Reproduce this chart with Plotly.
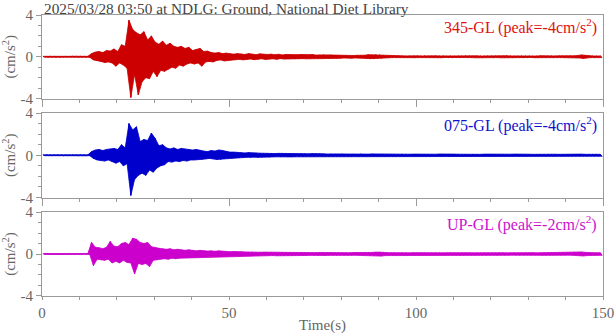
import numpy as np
import plotly.graph_objects as go

# time bins (s), 1-second resolution; each bin holds the max and min of the trace
t = list(range(150))

ns_hi = [0.04,0.03,0.04,0.05,0.04,0.03,0.04,0.04,0.05,0.04,
         0.04,0.05,0.04,0.30,0.45,0.50,0.40,0.60,0.55,0.75,
         0.50,1.15,1.00,3.50,2.60,2.30,2.10,2.40,1.60,2.00,
         1.40,1.20,1.50,1.10,1.30,1.00,0.90,1.00,0.80,0.90,
         0.60,0.70,0.80,0.50,0.55,0.40,0.35,0.40,0.30,0.35,
         0.30,0.25,0.30,0.28,0.22,0.30,0.25,0.20,0.28,0.24,
         0.22,0.25,0.20,0.24,0.18,0.22,0.20,0.18,0.20,0.22,
         0.18,0.20,0.22,0.16,0.18,0.20,0.15,0.18,0.16,0.14,
         0.12,0.14,0.10,0.12,0.14,0.12,0.15,0.20,0.18,0.22,
         0.20,0.15,0.10,0.12,0.08,0.10,0.09,0.08,0.10,0.08,
         0.09,0.08,0.10,0.07,0.08,0.09,0.08,0.10,0.07,0.08,
         0.08,0.09,0.07,0.10,0.08,0.08,0.09,0.07,0.08,0.10,
         0.08,0.07,0.09,0.08,0.10,0.08,0.07,0.09,0.08,0.07,
         0.09,0.08,0.07,0.10,0.08,0.09,0.07,0.08,0.09,0.08,
         0.08,0.10,0.09,0.12,0.18,0.14,0.09,0.08,0.07,0.08]
ns_lo = [-0.04,-0.04,-0.03,-0.04,-0.05,-0.04,-0.04,-0.03,-0.04,-0.05,
         -0.04,-0.04,-0.05,-0.30,-0.40,-0.45,-0.55,-0.50,-0.60,-0.90,
         -0.60,-0.80,-1.10,-3.90,-1.70,-3.65,-2.40,-2.00,-2.10,-1.40,
         -1.90,-1.30,-1.40,-1.20,-1.00,-1.10,-0.80,-0.90,-0.70,-0.60,
         -0.70,-0.60,-0.90,-0.50,-0.45,-0.50,-0.35,-0.30,-0.40,-0.30,
         -0.30,-0.28,-0.25,-0.30,-0.26,-0.22,-0.28,-0.24,-0.20,-0.26,
         -0.22,-0.20,-0.25,-0.18,-0.22,-0.20,-0.18,-0.22,-0.20,-0.18,
         -0.20,-0.18,-0.16,-0.20,-0.18,-0.15,-0.18,-0.14,-0.16,-0.15,
         -0.12,-0.10,-0.14,-0.12,-0.10,-0.13,-0.16,-0.18,-0.22,-0.18,
         -0.16,-0.12,-0.10,-0.08,-0.10,-0.09,-0.08,-0.10,-0.08,-0.09,
         -0.08,-0.09,-0.07,-0.08,-0.10,-0.08,-0.09,-0.07,-0.08,-0.09,
         -0.10,-0.08,-0.09,-0.07,-0.08,-0.10,-0.08,-0.09,-0.07,-0.08,
         -0.09,-0.08,-0.10,-0.07,-0.08,-0.09,-0.08,-0.07,-0.09,-0.08,
         -0.07,-0.09,-0.08,-0.08,-0.10,-0.07,-0.09,-0.08,-0.08,-0.09,
         -0.08,-0.09,-0.10,-0.12,-0.16,-0.12,-0.08,-0.09,-0.07,-0.08]

ew_hi = [0.04,0.04,0.03,0.04,0.05,0.04,0.04,0.03,0.04,0.04,
         0.05,0.04,0.04,0.35,0.50,0.55,0.45,0.55,0.60,0.65,
         0.55,1.00,0.70,3.00,2.40,2.70,1.30,1.50,1.40,2.10,
         1.60,0.90,1.00,0.70,0.60,0.70,0.55,0.65,0.60,0.55,
         0.50,0.55,0.45,0.40,0.35,0.45,0.40,0.50,0.45,0.35,
         0.30,0.30,0.25,0.24,0.22,0.25,0.20,0.22,0.20,0.18,
         0.20,0.18,0.16,0.18,0.17,0.15,0.18,0.16,0.15,0.17,
         0.15,0.14,0.16,0.13,0.15,0.14,0.12,0.14,0.13,0.12,
         0.13,0.12,0.11,0.13,0.12,0.14,0.12,0.11,0.13,0.12,
         0.11,0.12,0.10,0.12,0.11,0.10,0.12,0.11,0.10,0.11,
         0.10,0.11,0.12,0.10,0.11,0.10,0.12,0.10,0.11,0.10,
         0.11,0.10,0.09,0.11,0.10,0.12,0.10,0.09,0.11,0.10,
         0.10,0.09,0.11,0.10,0.09,0.10,0.11,0.09,0.10,0.09,
         0.10,0.09,0.10,0.11,0.09,0.10,0.09,0.10,0.09,0.10,
         0.09,0.10,0.09,0.10,0.11,0.09,0.10,0.09,0.08,0.09]
ew_lo = [-0.04,-0.03,-0.04,-0.04,-0.04,-0.05,-0.04,-0.04,-0.03,-0.04,
         -0.04,-0.05,-0.04,-0.30,-0.45,-0.50,-0.55,-0.45,-0.60,-0.75,
         -0.60,-1.00,-0.80,-3.80,-2.30,-1.90,-1.70,-1.90,-1.40,-1.60,
         -1.20,-1.00,-0.90,-0.60,-0.65,-0.55,-0.60,-0.50,-0.55,-0.45,
         -0.45,-0.40,-0.40,-0.35,-0.30,-0.35,-0.40,-0.40,-0.35,-0.30,
         -0.28,-0.26,-0.24,-0.22,-0.20,-0.22,-0.18,-0.20,-0.18,-0.17,
         -0.18,-0.16,-0.15,-0.17,-0.15,-0.14,-0.16,-0.15,-0.14,-0.15,
         -0.14,-0.13,-0.15,-0.12,-0.14,-0.13,-0.12,-0.13,-0.12,-0.11,
         -0.12,-0.11,-0.12,-0.10,-0.12,-0.11,-0.13,-0.11,-0.10,-0.12,
         -0.10,-0.11,-0.10,-0.11,-0.10,-0.09,-0.11,-0.10,-0.09,-0.10,
         -0.10,-0.09,-0.11,-0.10,-0.09,-0.10,-0.11,-0.09,-0.10,-0.09,
         -0.10,-0.09,-0.10,-0.09,-0.11,-0.10,-0.09,-0.10,-0.09,-0.10,
         -0.09,-0.10,-0.09,-0.10,-0.09,-0.11,-0.09,-0.10,-0.09,-0.10,
         -0.09,-0.10,-0.09,-0.09,-0.10,-0.09,-0.10,-0.09,-0.10,-0.09,
         -0.09,-0.10,-0.09,-0.10,-0.09,-0.10,-0.09,-0.08,-0.09,-0.09]

ud_hi = [0.04,0.04,0.05,0.04,0.03,0.04,0.04,0.05,0.04,0.04,
         0.03,0.04,0.04,1.10,0.65,0.60,0.50,0.65,1.20,0.75,
         0.70,1.00,1.10,0.90,1.50,1.40,1.10,1.00,1.10,0.70,
         0.60,0.55,0.50,0.45,0.50,0.40,0.45,0.40,0.35,0.40,
         0.35,0.30,0.35,0.30,0.28,0.30,0.26,0.30,0.25,0.24,
         0.22,0.24,0.20,0.22,0.20,0.18,0.20,0.18,0.17,0.18,
         0.16,0.18,0.15,0.17,0.16,0.15,0.16,0.14,0.15,0.16,
         0.14,0.15,0.14,0.13,0.15,0.14,0.13,0.14,0.13,0.14,
         0.13,0.14,0.12,0.14,0.13,0.12,0.14,0.13,0.15,0.18,
         0.20,0.16,0.13,0.12,0.13,0.12,0.13,0.12,0.11,0.13,
         0.12,0.13,0.12,0.11,0.12,0.13,0.12,0.11,0.12,0.13,
         0.12,0.11,0.12,0.13,0.12,0.11,0.12,0.12,0.13,0.12,
         0.11,0.12,0.13,0.12,0.11,0.12,0.13,0.12,0.11,0.12,
         0.12,0.13,0.11,0.12,0.12,0.13,0.12,0.11,0.12,0.13,
         0.12,0.13,0.14,0.16,0.20,0.16,0.12,0.13,0.12,0.12]
ud_lo = [-0.04,-0.05,-0.04,-0.04,-0.04,-0.03,-0.04,-0.04,-0.05,-0.04,
         -0.04,-0.03,-0.04,-1.10,-0.50,-0.55,-0.60,-0.50,-0.85,-0.70,
         -0.85,-0.60,-0.80,-0.85,-1.90,-0.90,-1.00,-0.90,-1.20,-0.60,
         -0.55,-0.50,-0.45,-0.50,-0.40,-0.45,-0.40,-0.38,-0.35,-0.38,
         -0.32,-0.35,-0.30,-0.28,-0.30,-0.26,-0.28,-0.25,-0.24,-0.22,
         -0.22,-0.20,-0.22,-0.19,-0.18,-0.20,-0.17,-0.18,-0.16,-0.17,
         -0.16,-0.15,-0.17,-0.14,-0.16,-0.14,-0.15,-0.14,-0.13,-0.15,
         -0.14,-0.13,-0.14,-0.13,-0.12,-0.14,-0.13,-0.12,-0.13,-0.12,
         -0.13,-0.12,-0.13,-0.12,-0.11,-0.13,-0.12,-0.14,-0.16,-0.18,
         -0.20,-0.15,-0.12,-0.13,-0.12,-0.11,-0.12,-0.13,-0.12,-0.11,
         -0.12,-0.11,-0.12,-0.13,-0.12,-0.11,-0.12,-0.13,-0.11,-0.12,
         -0.11,-0.12,-0.13,-0.11,-0.12,-0.12,-0.11,-0.13,-0.12,-0.11,
         -0.12,-0.13,-0.11,-0.12,-0.12,-0.11,-0.12,-0.13,-0.12,-0.11,
         -0.12,-0.11,-0.12,-0.13,-0.11,-0.12,-0.12,-0.11,-0.13,-0.12,
         -0.11,-0.12,-0.13,-0.15,-0.19,-0.15,-0.12,-0.11,-0.12,-0.12]

components = ["345-GL", "075-GL", "UP-GL"]
peaks = [-4, -4, -2]
trace_colors = ["#cc0000", "#0000cc", "#cc00cc"]
label_colors = ["#dd1111", "#1111cc", "#cc11cc"]
title_text = "2025/03/28 03:50 at NDLG: Ground, National Diet Library"
x_title = "Time(s)"
y_title = "(cm/s<sup>2</sup>)"
x_major = [0, 50, 100, 150]
x_minor = list(range(10, 150, 10))
y_major = [-4, 0, 4]
y_minor = [-3, -2, -1, 1, 2, 3]

series = [(ns_hi, ns_lo), (ew_hi, ew_lo), (ud_hi, ud_lo)]

FONT = "Liberation Serif, Times New Roman, serif"
GRID = "#9a9a9a"
TXT = "#666666"

# vertical domains (top panel first)
domains = [[0.7028, 1.0], [0.3505, 0.6512], [0.0, 0.2989]]

fig = go.Figure()
for i, ((hi, lo), col) in enumerate(zip(series, trace_colors)):
    tt = np.asarray(t, dtype=float)
    # envelope band: maxima on the upper edge, minima on the lower edge
    xs = np.concatenate([tt + 0.25, (tt + 0.75)[::-1]])
    ys = np.concatenate([np.asarray(hi), np.asarray(lo)[::-1]])
    ax = "" if i == 0 else str(i + 1)
    fig.add_trace(go.Scatter(x=xs, y=ys, mode="lines", fill="toself",
                             fillcolor=col,
                             line=dict(color=col, width=0.8),
                             xaxis="x" + ax, yaxis="y" + ax,
                             showlegend=False, hoverinfo="skip"))
    # oscillation strokes inside the band
    zx = np.column_stack([tt + 0.25, tt + 0.75]).ravel()
    zy = np.column_stack([hi, lo]).ravel()
    fig.add_trace(go.Scatter(x=zx, y=zy, mode="lines",
                             line=dict(color=col, width=1),
                             xaxis="x" + ax, yaxis="y" + ax,
                             showlegend=False, hoverinfo="skip"))

layout = dict(
    width=616, height=334,
    margin=dict(l=42, r=13, t=15, b=38),
    paper_bgcolor="white", plot_bgcolor="white",
    font=dict(family=FONT, size=15, color=TXT),
    showlegend=False,
)
for i in range(3):
    ax = "" if i == 0 else str(i + 1)
    last = i == 2
    layout["xaxis" + ax] = dict(
        range=[0, 150], anchor="y" + ax, domain=[0, 1], automargin=False,
        showline=True, linecolor=GRID, linewidth=1, mirror=True,
        showgrid=False, zeroline=False,
        ticks="outside", ticklen=3 if last else 7, tickcolor=GRID, tickwidth=1,
        tickvals=x_major, showticklabels=last,
        minor=dict(tickvals=x_minor, ticks="outside",
                   ticklen=3, tickcolor=GRID),
        tickfont=dict(size=15, color=TXT),
        title=dict(text=x_title if last else "", standoff=6,
                   font=dict(size=15, color=TXT)),
    )
    layout["yaxis" + ax] = dict(
        range=[-4, 4], anchor="x" + ax, domain=domains[i], automargin=False,
        showline=True, linecolor=GRID, linewidth=1, mirror=True,
        showgrid=False, zeroline=False,
        ticks="outside", ticklen=5, tickcolor=GRID, tickwidth=1,
        tickvals=y_major, ticktext=[str(v) for v in y_major],
        minor=dict(tickvals=y_minor, ticks="outside",
                   ticklen=3, tickcolor=GRID),
        tickfont=dict(size=15, color=TXT),
        title=dict(text=y_title, standoff=4, font=dict(size=15, color=TXT)),
    )
# overlay axis carrying the long major ticks of the bottom panel
layout["xaxis4"] = dict(
    range=[0, 150], anchor="y3", overlaying="x3", side="bottom",
    automargin=False, showline=False, showgrid=False, zeroline=False,
    ticks="outside", ticklen=7, tickcolor=GRID, tickwidth=1,
    tickvals=x_major, showticklabels=False,
)
fig.update_layout(**layout)

for i in range(3):
    ax = "" if i == 0 else str(i + 1)
    fig.add_annotation(
        text=f"{components[i]} (peak={peaks[i]}cm/s<sup>2</sup>)",
        xref="x" + ax + " domain", yref="y" + ax + " domain",
        x=0.993, y=1.01, xanchor="right", yanchor="top", showarrow=False,
        font=dict(family=FONT, size=16, color=label_colors[i]))

fig.add_annotation(text=title_text, xref="paper", yref="paper",
                   x=0, y=1, xanchor="left", yanchor="bottom", yshift=-4,
                   showarrow=False, font=dict(family=FONT, size=15.3, color="#444444"))

fig.write_html("out.html")
